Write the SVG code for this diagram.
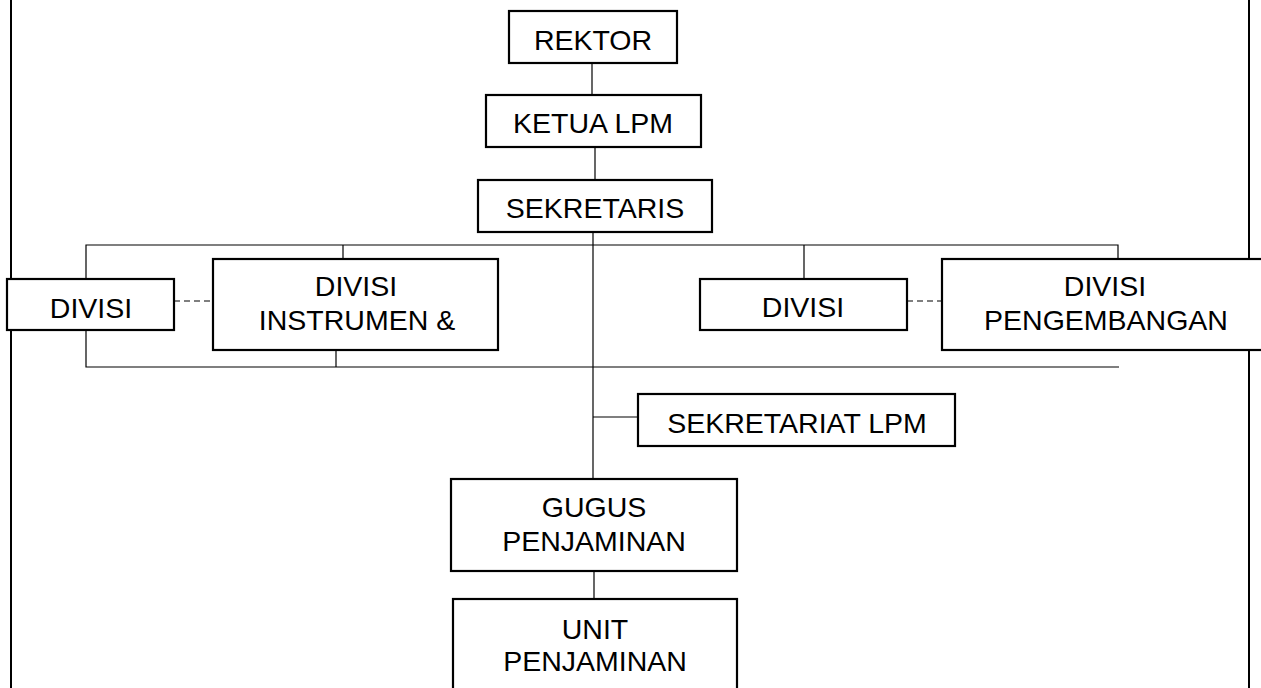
<svg xmlns="http://www.w3.org/2000/svg" width="1261" height="688" viewBox="0 0 1261 688">
<style>
.box{fill:#fff;stroke:#000;stroke-width:2.2}
.ln{fill:none;stroke:#000;stroke-width:1.2}
.dash{fill:none;stroke:#000;stroke-width:1.2;stroke-dasharray:6 4}
.border{fill:none;stroke:#000;stroke-width:2}
text{font-family:"Liberation Sans",Arial,sans-serif;font-size:28.5px;fill:#000;text-anchor:middle}
</style>
<rect width="1261" height="688" fill="#fff"/>
<g id="page-border">
<line class="border" x1="11" y1="0" x2="11" y2="688"/>
<line class="border" x1="1249" y1="0" x2="1249" y2="688"/>
</g>
<g id="connectors">
<line class="ln" x1="592" y1="63" x2="592" y2="95"/>
<line class="ln" x1="595" y1="147" x2="595" y2="180"/>
<line class="ln" x1="593" y1="232" x2="593" y2="479"/>
<polyline class="ln" points="86,279 86,245 1118,245 1118,259"/>
<line class="ln" x1="343" y1="245" x2="343" y2="259"/>
<line class="ln" x1="804" y1="245" x2="804" y2="279"/>
<polyline class="ln" points="86,330 86,367 1119,367"/>
<line class="ln" x1="336" y1="350" x2="336" y2="367"/>
<line class="dash" x1="174" y1="301" x2="213" y2="301"/>
<line class="dash" x1="907" y1="301" x2="942" y2="301"/>
<line class="ln" x1="593" y1="417" x2="638" y2="417"/>
<line class="ln" x1="594" y1="571" x2="594" y2="599"/>
</g>
<g id="rektor">
<rect class="box" x="509" y="11" width="168" height="52"/>
<text x="593" y="50">REKTOR</text>
</g>
<g id="ketua-lpm">
<rect class="box" x="486" y="95" width="215" height="52"/>
<text x="593" y="133">KETUA LPM</text>
</g>
<g id="sekretaris">
<rect class="box" x="478" y="180" width="234" height="52"/>
<text x="595" y="218">SEKRETARIS</text>
</g>
<g id="divisi-1">
<rect class="box" x="7" y="279" width="167" height="51"/>
<text x="91" y="318">DIVISI</text>
</g>
<g id="divisi-instrumen">
<rect class="box" x="213" y="259" width="285" height="91"/>
<text x="356" y="296">DIVISI</text>
<text x="357" y="330">INSTRUMEN &amp;</text>
</g>
<g id="divisi-2">
<rect class="box" x="700" y="279" width="207" height="51"/>
<text x="803" y="317">DIVISI</text>
</g>
<g id="divisi-pengembangan">
<rect class="box" x="942" y="259" width="326" height="91"/>
<text x="1105" y="296">DIVISI</text>
<text x="1106" y="330">PENGEMBANGAN</text>
</g>
<g id="sekretariat-lpm">
<rect class="box" x="638" y="394" width="317" height="52"/>
<text x="797" y="433">SEKRETARIAT LPM</text>
</g>
<g id="gugus-penjaminan">
<rect class="box" x="451" y="479" width="286" height="92"/>
<text x="594" y="517">GUGUS</text>
<text x="594" y="551">PENJAMINAN</text>
</g>
<g id="unit-penjaminan">
<rect class="box" x="453" y="599" width="284" height="100"/>
<text x="595" y="639">UNIT</text>
<text x="595" y="671">PENJAMINAN</text>
</g>
</svg>
